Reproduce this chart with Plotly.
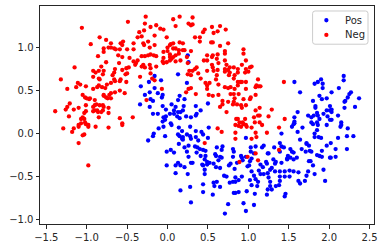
import plotly.graph_objects as go

series_names = ["Pos", "Neg"]
series_colors = ["#0000ff", "#ff0000"]
x_ticks = [-1.5, -1.0, -0.5, 0.0, 0.5, 1.0, 1.5, 2.0, 2.5]
y_ticks = [-1.0, -0.5, 0.0, 0.5, 1.0]

neg_points = [
(-1.06,1.23),(-.49,1.30),(-.27,1.36),(-.28,1.28),(.07,1.33),(.15,1.36),(.26,1.28),(.29,1.26),(.10,1.25),(-.14,1.26),
(-.21,1.24),(-.09,1.22),(-.05,1.21),(-.29,1.20),(-.35,1.18),(-.37,1.12),(-.32,1.13),(-.16,1.14),(-.01,1.12),(-.84,1.12),
(-.95,1.04),(-.76,1.09),(-.55,1.07),(-.58,1.05),(-.70,1.05),(-.42,1.05),(-.30,1.05),(-.24,1.07),(-.29,1.03),(-.22,1.00),
(-.16,1.03),(.15,1.06),(.19,1.05),(.07,1.05),(.03,1.03),(0,1.00),(-.79,.99),(-.73,1.00),(-.70,1.00),(-.66,.99),(-.64,.98),
(-.79,.95),(-.59,.98),(-.56,1.03),(-.50,.98),(-.42,.98),(-.86,.90),(-.61,.91),(-.56,.89),(-.47,.88),(-.32,.90),(-.28,.90),
(-.21,.92),(-.17,.91),(-.14,.90),(-.24,.91),(-.76,.83),(-.60,.82),(-.42,.84),(-.39,.82),(-.40,.80),(-.37,.85),(-1.15,.77),
(-.82,.78),(-.30,.80),(-.28,.77),(-.32,.78),(-.22,.80),(-.21,.76),(-.14,.78),(-.92,.73),(-.89,.71),(-.85,.73),(-.79,.73),
(-.80,.69),(-.65,.75),(-.66,.71),(-.68,.68),(-.56,.74),(-.51,.76),(-.48,.77),(-.52,.69),(-.50,.70),(-.92,.66),(-.84,.63),
(-.85,.64),(-1.32,.63),(-.66,.63),(-.65,.61),(-.70,.59),(-.58,.63),(-.59,.61),(-.51,.60),(-.34,.66),(-.21,.70),(-.19,.64),
(-.16,.62),(-1.11,.59),(-1.08,.57),(-1.13,.54),(-1.01,.55),(-1.24,.52),(-.92,.52),(-.87,.54),(-.81,.54),(-.77,.53),(-.75,.57),
(-.85,.56),(-.59,.50),(-.65,.48),(-.53,.47),(-.07,.52),(-.70,.47),(-.72,.45),(-1.05,.45),(-1.02,.42),(-1.00,.41),(-.97,.40),
(-.96,.41),(-.90,.39),(-.79,.45),(-.76,.42),(-.74,.41),(-.70,.41),(-.79,.44),(-.26,.39),(-1.21,.35),(-1.24,.31),(-1.26,.28),
(-1.16,.28),(-1.10,.30),(-1.01,.33),(-.92,.31),(-.90,.33),(-.88,.34),(-.84,.33),(-.80,.33),(-.79,.31),(-.73,.30),(-1.39,.26),
(-1.01,.26),(-.92,.26),(-.90,.27),(-.87,.27),(-.86,.25),(-1.22,.20),(-1.03,.24),(-1.05,.19),(-.82,.25),(-.80,.27),(-.85,.19),
(-1.07,.17),(-1.03,.17),(-1.02,.13),(-1.01,.11),(-.59,.18),(-.43,.19),(-.73,.24),(-1.07,.12),(-.56,.12),(.04,1.04),(.07,.99),
(.10,.99),(.14,.97),(.19,.97),(.21,.97),(.29,.96),(-.05,.95),(0,.96),(.03,.92),(.03,.89),(.07,.89),(.10,.91),(.14,.93),
(-.05,.88),(-.06,.84),(-.05,.82),(-.01,.83),(.03,.85),(.05,.87),(.10,.84),(.16,.85),(.24,.89),(.25,.82),(.27,.73),(.25,.69),
(.29,.68),(.23,.48),(.26,.52),(.29,.53),
(.55,1.24),(.65,1.25),(.72,1.21),(.46,1.21),(.44,1.18),(.62,1.19),(.57,1.17),(.34,1.12),(.40,1.12),(.40,1.07),(.54,1.06),
(.56,1.06),(.75,1.05),(.65,1.02),(.31,1.35),(.31,1.27),(.94,.98),(.94,.93),(.71,.96),(.71,.93),(.49,.91),(.56,.91),(.62,.92),
(.55,.89),(.61,.87),(.45,.85),(.49,.85),(.71,.85),(.63,.82),(.55,.80),(.56,.77),(.73,.80),(.77,.77),(.82,.77),(.87,.75),
(.92,.80),(.97,.85),(.97,.75),(1.04,.78),(1.02,.77),(.36,.77),(.34,.75),(.31,.73),(.49,.73),(.57,.73),(.62,.74),(.71,.75),
(.71,.72),(.75,.74),(.77,.71),(.87,.71),(.96,.71),(1.0,.72),(.38,.70),(.41,.64),(.61,.68),(.60,.63),(.76,.68),(.83,.68),
(.82,.64),(1.12,.63),(1.44,.60),(.47,.59),(.49,.56),(.52,.59),(.49,.52),(.63,.57),(.71,.54),(.75,.53),(.78,.54),(.87,.60),
(.90,.60),(.92,.60),(.97,.60),(.87,.56),(1.10,.56),(1.13,.55),(1.09,.54),(1.15,.55),(.83,.52),(.97,.52),(.35,.46),(.51,.45),
(.56,.44),(.63,.45),(.78,.46),(.82,.46),(.88,.46),(.83,.41),(.94,.40),(1.03,.42),(1.02,.40),(1.09,.45),(.68,.38),(.75,.37),
(.68,.34),(.65,.31),(.82,.37),(.81,.34),(.86,.34),(.91,.33),(.97,.33),(.92,.30),(.73,.25),(1.29,.28),(1.14,.30),(1.09,.27),
(1.12,.21),(1.14,.21),(1.07,.19),(1.25,.20),(.85,.17),(.87,.17),(.96,.17),(.89,.13),(.93,.13),(.94,.11),(1.14,.13),(1.08,.13),
(1.45,.17),(.84,.10),(.88,.09),(.91,.08),(.97,.10),(.98,.08),(1.17,.10),(.62,.06),(.67,.02),(.84,.01),(.84,-.06),(1.04,.07),
(1.09,.01),(1.23,.01),(1.38,.07),(1.10,-.04),(1.04,-.06),(.46,-.11),(1.38,-.19),(1.09,-.23),(.99,-.27),(1.12,-.31),(.89,-.33),
(-1.29,.06),(-1.18,.02),(-1.16,.06),(-1.10,.10),(-1.10,.08),(-.98,.10),(-.98,.08),(-.89,.08),(-.73,.07),(-.56,.10),(-1.03,-.01),
(-1.05,-.02),(-1.10,-.11),(-.98,-.37),
]

pos_points = [
(-.16,.67),(-.08,.62),(-.23,.60),(-.33,.55),(.13,.69),(.24,.59),(.25,.91),(.26,.83),(-.16,.53),(-.22,.48),(-.12,.47),(-.28,.45),
(-.06,.45),(-.07,.42),(-.21,.40),(-.18,.38),(-.34,.34),(-.22,.31),(.15,.44),(.13,.39),(.05,.34),(.10,.31),(.08,.27),(-.06,.32),
(-.02,.28),(-.18,.23),(-.12,.23),(-.05,.19),(.03,.23),(.08,.23),(.21,.40),(.20,.32),(.19,.27),(.16,.25),(.13,.25),(.12,.20),
(-.02,.20),(-.03,.16),(-.06,.14),(.04,.12),(.15,.18),(.23,.20),(.29,.19),
(-.24,-.08),(-.18,-.03),(-.17,0),(-.11,.06),(-.05,.08),(.05,.10),(-.03,-.03),(.14,.07),(.18,.03),(.13,-.01),(.15,-.03),(.19,-.04),
(.18,-.06),(.19,-.07),(.24,-.01),(.28,-.03),(.29,-.06),(.28,.08),(.14,-.12),(.21,-.16),(.26,-.14),(.24,-.21),(-.01,-.21),(.04,-.19),
(.08,-.22),(.26,-.27),(.29,-.34),(-.01,-.37),(.10,-.37),(.13,-.34),(.16,-.37),(.21,-.39),(.10,-.46),(.25,-.47),(.28,-.62),(.16,-.66),(.29,-.80),
(1.57,.60),(1.64,.48),(1.90,.63),(1.86,.60),(1.82,.58),(1.92,.58),(1.92,.53),(2.18,.67),(2.18,.62),(2.12,.53),(2.03,.48),(2.27,.48),
(1.88,.44),(1.91,.40),(1.97,.41),(1.80,.38),(2.25,.46),(2.23,.42),(2.20,.38),(2.19,.37),(2.37,.41),(1.83,.32),(1.83,.30),(1.97,.27),
(2.01,.32),(2.03,.28),(2.01,.27),(2.03,.25),(2.32,.31),(2.19,.30),(1.61,.25),(1.57,.19),(1.74,.21),(1.78,.19),(1.85,.24),(1.86,.21),
(1.81,.21),(1.93,.23),(1.98,.20),(1.88,.17),(2.01,.16),(2.03,.16),(2.11,.21),(1.85,.13),(1.78,.13),(2.15,.13),(1.57,.14),(.35,.32),
(.41,.27),(.50,.35),(.36,.23),(.35,.21),(1.57,.12),
(.35,.03),(.42,.02),(.35,-.04),(.44,-.01),(.50,-.05),(.51,.07),(.38,-.08),(.34,-.15),(.37,-.16),(.40,-.18),(.44,-.19),(.36,-.22),
(.41,-.26),(.47,-.20),(.47,-.26),(.46,-.30),(.49,-.33),(.43,-.36),(.49,-.36),(.44,-.37),(.52,-.34),(.57,-.35),(.46,-.42),(.46,-.47),
(.44,-.59),(.44,-.68),(.31,-.34),(.56,-.71),(.61,-.16),(.68,-.15),(.67,-.19),(.59,-.24),(.60,-.26),(.65,-.27),(.63,-.31),(.67,-.28),
(.60,-.39),(.65,-.40),(.81,-.18),(.82,-.21),(.81,-.27),(.78,-.35),(.76,-.37),(.83,-.41),(.86,-.34),(.91,-.26),(.92,-.28),(.97,-.27),
(1.03,-.16),(1.09,-.15),(1.17,-.16),(1.19,-.14),(1.03,-.21),(1.07,-.23),(1.04,-.29),(1.02,-.32),(.93,-.31),(1.01,-.37),(.99,-.38),
(1.15,-.36),(1.18,-.39),(1.13,-.43),(1.15,-.47),(1.19,-.47),(1.22,-.33),(1.04,-.44),(1.07,-.49),(1.23,-.35),(.70,-.49),(.73,-.50),
(.77,-.57),(.81,-.56),(.84,-.51),(.84,-.56),(.88,-.54),(.92,-.50),(.57,-.57),(.61,-.56),(.58,-.61),(.65,-.62),(1.02,-.54),(1.09,-.53),
(1.12,-.56),(1.04,-.60),(1.11,-.61),(.82,-.69),(.84,-.69),(.88,-.68),(.98,-.67),(1.08,-.70),(1.23,-.71),(1.24,-.65),(.75,-.82),(.94,-.81),
(1.07,-.83),(.97,-.90),(.71,-.93),(1.25,-.23),(1.32,-.16),(1.24,-.23),(1.31,-.30),(1.34,-.33),(1.33,-.35),(1.29,-.40),(1.27,-.42),(1.24,-.46),
(1.33,-.44),(1.25,-.51),(1.27,-.56),(1.27,-.61),(1.29,-.65),(1.34,-.61),(1.38,-.60),(1.39,-.55),(1.39,-.50),(1.39,-.44),(1.45,-.44),(1.51,-.43),
(1.51,-.50),(1.45,-.50),(1.45,-.73),(1.46,-.70),(1.56,-.44),(1.41,-.34),(1.48,-.29),(1.49,-.26),(1.48,-.30),(1.52,-.28),(1.39,-.11),(1.41,0),
(1.41,-.15),(1.44,-.16),(1.39,-.21),(1.52,-.18),(1.54,-.21),(1.56,-.22),(1.60,-.28),(1.56,-.30),(1.54,.08),(1.56,.11),(1.61,.02),(1.67,.07),
(1.64,-.07),(1.66,-.18),(1.71,-.21),(1.76,-.20),(1.78,-.21),(1.72,-.12),(1.75,-.14),(1.72,-.11),(1.62,-.45),(1.62,-.55),(1.64,-.58),(1.70,-.55),
(1.74,-.44),(1.72,-.49),(1.82,-.47),(1.95,-.55),(1.93,-.42),(1.75,-.32),(1.77,-.32),(1.80,-.37),(1.85,-.25),(1.88,-.26),(1.91,-.27),(1.91,-.20),
(1.97,-.14),(2.02,-.11),(2.08,-.18),(2.08,-.27),(2.01,-.28),(2.02,-.28),(1.82,-.04),(1.82,0),(1.85,.04),(1.87,-.04),(1.90,-.05),(2.11,-.05),
(2.22,-.03),(2.22,-.18),(2.30,-.03),(2.14,.08),(2.15,.10),(2.23,.06),(1.97,.10),(1.86,.10),(1.80,.11),(.97,-.05),
]

pos_x, pos_y = zip(*pos_points)
neg_x, neg_y = zip(*neg_points)

fig = go.Figure()
fig.add_trace(go.Scatter(x=pos_x, y=pos_y, mode="markers", name=series_names[0], showlegend=False,
                         marker=dict(color=series_colors[0], size=4.3, line=dict(width=0))))
fig.add_trace(go.Scatter(x=neg_x, y=neg_y, mode="markers", name=series_names[1], showlegend=False,
                         marker=dict(color=series_colors[1], size=4.3, line=dict(width=0))))

axis_style = dict(showgrid=False, zeroline=False, showline=True, mirror=True, linecolor="#262626",
                  linewidth=1, ticks="outside", ticklen=3.5, tickwidth=1, tickcolor="#262626",
                  tickfont=dict(family="DejaVu Sans", size=10, color="#262626"))

# Plot area in window pixels, used only to place the legend box
L, T, W, H = 39.5, 6.0, 334.5, 218.5
px = lambda v: (v - L) / W
py = lambda v: (T + H - v) / H

x0, x1, y0, y1 = px(312.5), px(368.0), py(44.3), py(11.0)
rx, ry = 2.5 / W, 2.5 / H
box_path = (f"M {x0+rx} {y0} L {x1-rx} {y0} Q {x1} {y0} {x1} {y0+ry} L {x1} {y1-ry} Q {x1} {y1} {x1-rx} {y1} "
            f"L {x0+rx} {y1} Q {x0} {y1} {x0} {y1-ry} L {x0} {y0+ry} Q {x0} {y0} {x0+rx} {y0} Z")
shapes = [dict(type="path", path=box_path, xref="paper", yref="paper",
               fillcolor="rgba(255,255,255,0.8)", line=dict(color="#cccccc", width=1))]
annotations = []
for name, color, row_y in zip(series_names, series_colors, [20.3, 35.0]):
    shapes.append(dict(type="circle", xref="paper", yref="paper", xsizemode="pixel", ysizemode="pixel",
                       xanchor=px(326.3), yanchor=py(row_y), x0=-2.15, x1=2.15, y0=-2.15, y1=2.15,
                       fillcolor=color, line=dict(width=0)))
    annotations.append(dict(text=name, xref="paper", yref="paper", x=px(344.0), y=py(row_y),
                            xanchor="left", yanchor="middle", showarrow=False, borderpad=0,
                            font=dict(family="DejaVu Sans", size=10, color="#262626")))

fig.update_layout(
    width=384, height=248,
    margin=dict(l=39.5, r=10, t=6, b=23.5, autoexpand=False),
    paper_bgcolor="white", plot_bgcolor="white",
    font=dict(family="DejaVu Sans", size=10, color="#262626"),
    hovermode=False, showlegend=False,
    xaxis=dict(range=[-1.578, 2.555], tickvals=x_ticks, tickformat=".1f", **axis_style),
    yaxis=dict(range=[-1.051, 1.484], tickvals=y_ticks, tickformat=".1f", **axis_style),
    shapes=shapes, annotations=annotations,
)

fig.write_html("out.html", config={"displayModeBar": False},
               post_script="document.body.style.margin='0';document.body.style.overflow='hidden';")
